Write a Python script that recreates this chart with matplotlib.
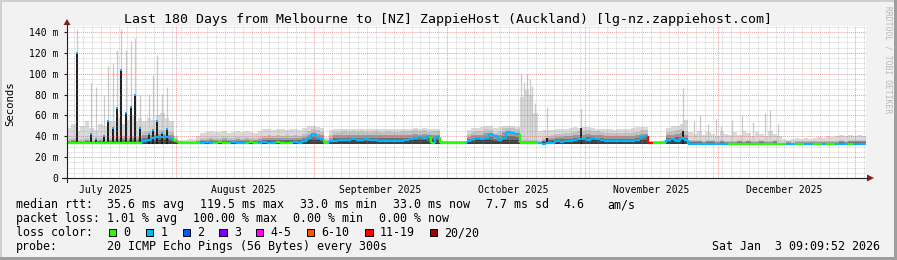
import numpy as np
import matplotlib
matplotlib.use('Agg')
import matplotlib.pyplot as plt
from matplotlib.collections import LineCollection
from matplotlib.patches import Rectangle, Polygon
from datetime import datetime, timedelta

W, H = 897, 260
MONO = 'DejaVu Sans Mono'

end_time = datetime(2026, 1, 3, 9, 9, 52)
n_days = 180
start_time = end_time - timedelta(days=n_days)

# daily median rtt in ms (one value per day, from the left edge)
median_ms = [
    34, 34, 34, 34, 34, 34, 34, 34, 34, 34,
    34, 34, 34, 34, 34, 34, 34, 35, 36, 38,
    39, 39, 39, 38.5, 35, 34, 34, 34, 34, 34,
    34, 34.5, 34, 34, 34.5, 34, 34, 34.5, 34, 34,
    34, 34.5, 34, 34, 34.5, 34, 34, 34.5, 34, 34,
    34, 34.5, 34, 35, 38, 42, 38, 37, 34, 35,
    35.5, 36, 36.5, 36, 37, 36, 36.5, 37, 36, 36.5,
    35.5, 35, 35, 35.5, 35, 35.5, 36.5, 37, 38, 39,
    38, 40, 34, 39, 34, 34, 34, 34, 34, 34,
    35.5, 37, 38, 37.5, 38, 42, 40, 36, 38, 44,
    43, 42, 34, 34, 34, 34, 33.5, 33, 33.5, 34,
    35, 34.5, 35, 35.5, 36, 37, 37.5, 36, 38, 37,
    36, 35, 35, 35.5, 35, 35, 35, 35, 36.5, 39,
    40, 34, 34, 34, 34, 36, 37.5, 35, 38, 36,
    33, 33, 33, 33, 33, 33, 33, 33, 33, 33,
    33, 33, 33, 33, 33, 33, 33, 33, 33, 33,
    33, 33, 33, 33, 33, 33, 33, 33, 33, 33,
    33, 33, 33, 33, 33, 33, 33, 33, 33, 33,
]

# lost pings (of 20) per day
loss_pings = [
    0, 0, 0, 0, 0, 0, 0, 0, 0, 0,
    0, 0, 0, 0, 0, 0, 0, 1, 1, 1,
    1, 1, 1, 1, 0, 0, 0, 0, 0, 0,
    1, 1, 1, 0, 0, 0, 0, 1, 1, 1,
    0, 0, 0, 1, 1, 1, 1, 0, 0, 0,
    0, 1, 1, 1, 1, 1, 1, 1, 0, 1,
    1, 1, 1, 1, 1, 1, 1, 1, 1, 1,
    1, 1, 1, 1, 1, 1, 1, 1, 1, 1,
    1, 1, 0, 1, 0, 0, 0, 0, 0, 0,
    1, 1, 1, 1, 1, 1, 1, 1, 1, 1,
    1, 1, 0, 0, 0, 0, 1, 1, 1, 1,
    1, 1, 1, 1, 1, 1, 1, 1, 1, 1,
    1, 1, 1, 1, 1, 1, 1, 1, 1, 1,
    1, 15, 0, 0, 0, 1, 1, 1, 1, 1,
    1, 1, 1, 1, 1, 1, 1, 1, 1, 0,
    0, 0, 0, 0, 0, 0, 0, 0, 0, 0,
    0, 0, 1, 1, 0, 0, 1, 1, 0, 0,
    1, 0, 0, 1, 1, 1, 0, 1, 1, 1,
]

# top of the dense (dark) part of the smoke, ms
smoke_dark = [
    37, 38, 36, 37, 38, 37, 36, 38, 37, 38,
    38, 39, 40, 38, 40, 39, 40, 44, 45, 44,
    46, 46, 45, 44, 37, 35, 35, 35, 35, 36,
    38, 38, 39, 38, 38, 39, 38, 38, 39, 38,
    39, 38, 38, 39, 40, 41, 40, 41, 40, 41,
    40, 41, 40, 42, 45, 47, 46, 44, 36, 41,
    44, 44, 45, 44, 45, 44, 45, 44, 44, 45,
    44, 44, 45, 44, 44, 45, 45, 45, 46, 45,
    46, 44, 45, 45, 35, 35, 35, 35, 35, 35,
    42, 44, 45, 45, 47, 46, 43, 45, 48, 48,
    48, 47, 36, 37, 36, 36, 35, 38, 40, 41,
    42, 42, 43, 43, 44, 45, 45, 46, 45, 45,
    44, 43, 43, 43, 43, 43, 43, 43, 44, 46,
    46, 34, 35, 35, 35, 44, 45, 46, 47, 45,
    36, 36, 36, 35, 36, 36, 35, 36, 35, 35,
    35, 36, 35, 36, 35, 35, 36, 35, 35, 36,
    34, 34, 35, 34, 35, 35, 35, 35, 35, 35,
    35, 35, 35, 35, 36, 35, 36, 36, 36, 36,
]

# highest ping of the day (body of the light smoke), ms
smoke_max = [
    48, 52, 45, 50, 55, 48, 46, 52, 50, 55,
    55, 58, 52, 56, 60, 55, 58, 55, 58, 56,
    60, 62, 58, 55, 40, 36, 36, 37, 37, 40,
    43, 44, 45, 44, 44, 45, 43, 44, 45, 44,
    45, 44, 43, 45, 47, 47, 46, 47, 47, 46,
    47, 47, 46, 48, 50, 50, 49, 48, 38, 46,
    47, 47, 47, 47, 47, 47, 47, 47, 47, 47,
    47, 47, 47, 47, 47, 47, 47, 47, 48, 47,
    48, 47, 47, 47, 35, 35, 35, 35, 35, 35,
    46, 48, 48, 49, 50, 50, 48, 49, 50, 50,
    50, 49, 78, 84, 80, 62, 45, 46, 46, 46,
    47, 47, 47, 48, 49, 48, 49, 49, 48, 47,
    47, 47, 47, 46, 47, 47, 47, 48, 49, 49,
    49, 35, 35, 35, 36, 48, 50, 50, 52, 56,
    44, 42, 45, 41, 44, 42, 40, 45, 42, 41,
    44, 41, 45, 43, 40, 44, 42, 40, 45, 42,
    40, 37, 36, 37, 38, 37, 38, 37, 38, 39,
    38, 40, 39, 40, 41, 40, 41, 40, 41, 40,
]

# short spikes (day offset, dark top ms, highest ping ms)
spike_day = [2.25, 5.3, 6.5, 8.3, 9.2, 10.3, 11.3, 12.2, 13.4, 14.4, 15.3,
             16.4, 18.5, 19.4, 20.3, 21.3, 22.5,
             102.3, 103.0, 103.6, 104.2, 104.8, 105.4,
             108.1, 115.8, 138.7,
             141.2, 142.6, 144.3, 146.1, 147.4, 149.8, 152.0, 154.6,
             157.2, 158.3, 160.1]
spike_dark = [120, 42, 37, 40, 55, 48, 67, 104, 62, 68, 80,
              48, 42, 46, 55, 43, 47,
              33, 33, 33, 33, 33, 33,
              38, 48, 45,
              33, 33, 33, 33, 33, 33, 33, 33,
              33, 33, 33]
spike_top = [143, 91, 87, 80, 107, 110, 123, 143, 123, 131, 134,
             80, 80, 99, 118, 81, 87,
             100, 92, 100, 95, 88, 72,
             68, 66, 86,
             55, 60, 52, 57, 50, 56, 60, 54,
             62, 65, 52]

loss_labels = ['0', '1', '2', '3', '4-5', '6-10', '11-19', '20/20']
loss_upper = [0, 1, 2, 3, 5, 10, 19, 20]
loss_colors = ['#26ff00', '#00b8ff', '#0059ff', '#7e00ff', '#ff00ff',
               '#ff5500', '#ff0000', '#a10000']

title = 'Last 180 Days from Melbourne to [NZ] ZappieHost (Auckland) [lg-nz.zappiehost.com]'
stats_rtt = ['median rtt:', '35.6 ms avg', '119.5 ms max', '33.0 ms min',
             '33.0 ms now', '7.7 ms sd', '4.6', 'am/s']
stats_loss = ['packet loss:', '1.01 % avg', '100.00 % max', '0.00 % min', '0.00 % now']
probe_text = '20 ICMP Echo Pings (56 Bytes) every 300s'
stamp_text = 'Sat Jan  3 09:09:52 2026'

rtt_floor = 33.0


def day_of(dt):
    return (dt - start_time).total_seconds() / 86400.0


def loss_color(n):
    for up, c in zip(loss_upper, loss_colors):
        if n <= up:
            return c
    return loss_colors[-1]


fig = plt.figure(figsize=(W / 100, H / 100), dpi=100)
fig.patch.set_facecolor('#f2f2f2')

# background layer in pixel coordinates
bg = fig.add_axes([0, 0, 1, 1], zorder=0)
bg.set_xlim(0, W)
bg.set_ylim(H, 0)
bg.axis('off')
bg.add_patch(Rectangle((0, 0), W, 2, color='#cfcfcf', lw=0))
bg.add_patch(Rectangle((0, 0), 2, H, color='#cfcfcf', lw=0))
bg.add_patch(Rectangle((0, H - 3), W, 3, color='#9e9e9e', lw=0))
bg.add_patch(Rectangle((W - 3, 0), 3, H, color='#9e9e9e', lw=0))

# main plot area
top_px, bot_px, left_px, right_px = 26, 178, 67, 866
ax = fig.add_axes([left_px / W, 1 - bot_px / H, (right_px - left_px) / W,
                   (bot_px - top_px) / H], zorder=1)
ax.set_facecolor('white')
ax.set_xlim(0, n_days)
ax.set_ylim(0, (bot_px - top_px) / 1.0429)
for s in ax.spines.values():
    s.set_visible(False)

x = np.arange(n_days + 1)
dark = np.array(smoke_dark + [smoke_dark[-1]], dtype=float)
smax = np.array(smoke_max + [smoke_max[-1]], dtype=float)

# smoke: light envelope, then darker shades towards the bottom
ax.fill_between(x, rtt_floor, smax, step='post', color='#dadada', lw=0, zorder=1)
ax.vlines(spike_day, rtt_floor, spike_top, color='#cacaca', lw=0.9, zorder=1.5)
shades = [(1.0, '#c2c2c2'), (0.72, '#9c9c9c'), (0.48, '#6e6e6e'), (0.26, '#3e3e3e')]
for frac, col in shades:
    ax.fill_between(x, rtt_floor, rtt_floor + frac * (dark - rtt_floor),
                    step='post', color=col, lw=0, zorder=2)
ax.vlines(spike_day, rtt_floor, spike_dark, color='#1c1c1c', lw=1.4, zorder=2.5)

# median line, coloured by packet loss
segs, cols = [], []
for i in range(n_days):
    c = loss_color(loss_pings[i])
    segs.append([(i, median_ms[i]), (i + 1, median_ms[i])])
    cols.append(c)
    if i > 0:
        segs.append([(i, median_ms[i - 1]), (i, median_ms[i])])
        cols.append(c)
ax.add_collection(LineCollection(segs, colors=cols, linewidths=1.6, zorder=4,
                                 capstyle='butt'))
ax.scatter(spike_day[:17], spike_dark[:17], marker='s', s=3, color='#00b8ff',
           lw=0, zorder=4)

# grid on top (rrdtool style)
grid_col = (0.56, 0.56, 0.56, 0.45)
mgrid_col = (0.87, 0.31, 0.31, 0.55)
dash = (0, (1, 1))
for v in np.arange(5, 146, 5):
    if v % 20:
        ax.axhline(v, color=grid_col, lw=0.6, ls=dash, zorder=5)
for v in range(20, 141, 20):
    ax.axhline(v, color=mgrid_col, lw=0.7, ls=dash, zorder=5)

month_starts = [datetime(2025, m, 1) for m in range(8, 13)] + [datetime(2026, 1, 1)]
day_lines = []
d = datetime(start_time.year, start_time.month, start_time.day)
while d < end_time:
    if d > start_time and d.day != 1:
        day_lines.append(day_of(d))
    d += timedelta(days=2)
for v in day_lines:
    ax.axvline(v, color=grid_col, lw=0.6, ls=dash, zorder=5)
for m in month_starts:
    ax.axvline(day_of(m), color=mgrid_col, lw=0.7, ls=dash, zorder=5)

# axis labels
ax.set_yticks(range(0, 141, 20))
ax.set_yticklabels(['0'] + ['%d m' % v for v in range(20, 141, 20)],
                   fontfamily=MONO, fontsize=7)
ax.tick_params(axis='y', length=2, width=0.8, color='#1f1f1f', pad=4)
label_days = [day_of(datetime(2025, m, 16)) for m in range(7, 13)]
ax.set_xticks(label_days)
ax.set_xticklabels(['July 2025', 'August 2025', 'September 2025',
                    'October 2025', 'November 2025', 'December 2025'],
                   fontfamily=MONO, fontsize=7)
ax.tick_params(axis='x', length=0, pad=5)

# axes lines and arrows
ov = fig.add_axes([0, 0, 1, 1], zorder=3)
ov.set_xlim(0, W)
ov.set_ylim(H, 0)
ov.axis('off')
ov.plot([62, 867], [178, 178], color='#1f1f1f', lw=0.8)
ov.plot([67, 67], [182, 24], color='#1f1f1f', lw=0.8)
ov.add_patch(Polygon([[63.5, 25], [70.5, 25], [67, 19]], closed=True, color='#7f1f1f', lw=0))
ov.add_patch(Polygon([[867, 174.5], [867, 181.5], [874, 178]], closed=True, color='#7f1f1f', lw=0))

# texts
bg.text(447.5, 23, title, ha='center', va='baseline', fontfamily=MONO, fontsize=9.5)
bg.text(10, 104, 'Seconds', rotation=90, ha='center', va='center',
        fontfamily=MONO, fontsize=7.7)
bg.text(888, 6, 'RRDTOOL / TOBI OETIKER', rotation=270, ha='center', va='top',
        fontfamily=MONO, fontsize=5.8, color='#b8b8b8')

for xp, s in zip([16, 107, 200, 300, 393, 486, 563, 607], stats_rtt):
    bg.text(xp, 208, s, va='baseline', fontfamily=MONO, fontsize=8.4)
for xp, s in zip([16, 107, 193, 293, 379], stats_loss):
    bg.text(xp, 222, s, va='baseline', fontfamily=MONO, fontsize=8.4)
bg.text(16, 236, 'loss color:', va='baseline', fontfamily=MONO, fontsize=8.4)
for xp, lab, col in zip([108.7, 145.7, 182.7, 219.3, 256, 307, 365.3, 430],
                        loss_labels, loss_colors):
    bg.add_patch(Rectangle((xp, 228.7), 7.3, 7.3, facecolor=col,
                           edgecolor='black', lw=0.7))
    bg.text(xp + 14.5, 236, lab, va='baseline', fontfamily=MONO, fontsize=8.4)
bg.text(16, 250, 'probe:', va='baseline', fontfamily=MONO, fontsize=8.4)
bg.text(107, 250, probe_text, va='baseline', fontfamily=MONO, fontsize=8.4)
bg.text(880, 250, stamp_text, ha='right', va='baseline', fontfamily=MONO, fontsize=8.4)

fig.savefig('out.png', dpi=100, facecolor=fig.get_facecolor())
